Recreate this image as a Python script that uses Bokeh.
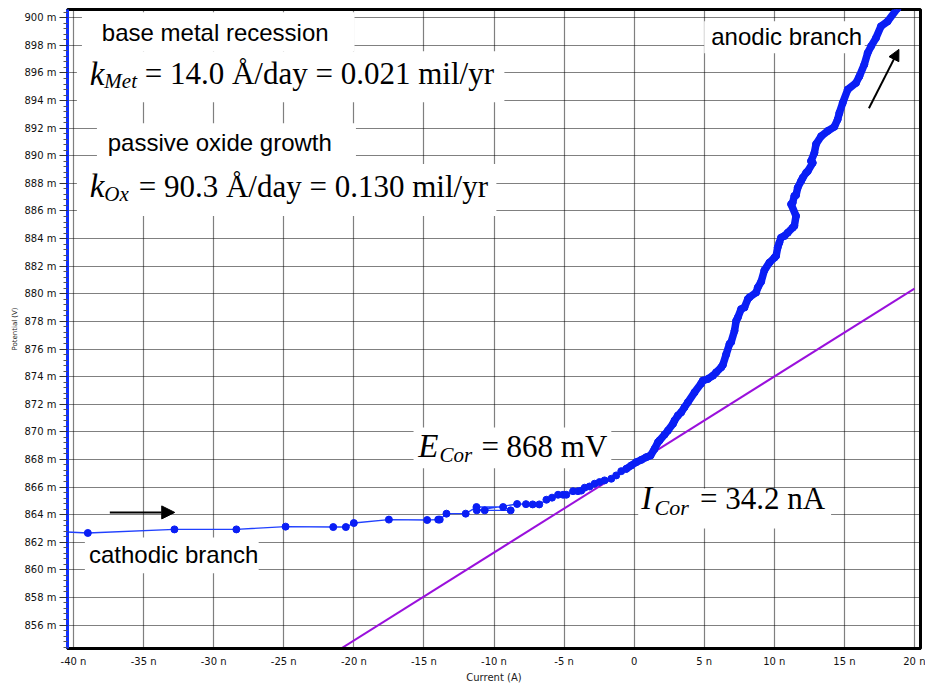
from bokeh.plotting import figure
from bokeh.models import (Range1d, FixedTicker, CustomJSTickFormatter, PrintfTickFormatter,
                          Label, BoxAnnotation, Arrow, NormalHead)
from bokeh.embed import file_html
from bokeh.resources import INLINE
import numpy as np

# ---------------- data ----------------
# x in nA, y in mV
cathodic_x = [-41.5, -38.98, -32.80, -28.38, -24.87, -21.47, -20.57, -20.00, -17.50, -14.77,
              -13.98, -13.87, -13.39, -12.02, -11.25, -9.35, -8.81, -10.66, -11.23, -8.35,
              -7.72, -7.24, -6.77, -6.26, -5.86, -5.43, -5.07, -4.84, -4.36, -4.01, -3.77,
              -3.53, -3.18, -2.82, -2.47, -2.11, -1.63, -1.28, -0.92]
cathodic_y = [862.80, 862.67, 862.93, 862.93, 863.13, 863.10, 863.10, 863.39, 863.64, 863.61,
              863.64, 863.64, 864.07, 864.07, 864.55, 864.55, 864.31, 864.31, 864.31, 864.77,
              864.76, 864.74, 864.74, 865.08, 865.23, 865.44, 865.44, 865.44, 865.70, 865.70, 865.74,
              865.95, 866.04, 866.24, 866.36, 866.48, 866.60, 866.84, 867.15]

anodic_x = [-0.56, -0.21, 0.15, 0.51, 0.86, 1.17, 1.45, 1.70, 1.81, 2.17, 2.41, 2.77, 2.88, 3.12,
            3.36, 3.59, 3.83, 4.31, 4.78, 4.90, 5.26, 5.62, 5.85, 6.21, 6.33, 6.56, 6.80, 6.92,
            7.16, 7.28, 7.40, 7.63, 7.87, 8.11, 8.23, 8.70, 8.82, 9.06, 9.29, 9.65, 10.01, 10.13,
            10.24, 10.36, 10.48, 10.72, 10.96, 11.31, 11.43, 11.55, 11.20, 11.31, 11.43, 11.55,
            11.67, 11.91, 12.03, 12.27, 12.39, 12.74, 12.62, 12.86, 12.98, 13.34, 13.81, 14.28,
            14.52, 14.64, 14.88, 15.24, 15.83, 16.07, 16.42, 16.66, 16.90, 17.25, 17.61, 18.09, 18.80]
anodic_y = [867.32, 867.56, 867.80, 867.97, 868.16, 868.29, 868.75, 869.25, 869.37, 869.80, 870.09,
            870.58, 870.82, 871.18, 871.42, 871.78, 872.14, 872.86, 873.50, 873.71, 873.83, 874.07,
            874.31, 874.67, 874.85, 875.60, 876.36, 876.50, 877.32, 878.05, 878.29, 878.89, 879.01,
            879.62, 879.75, 880.09, 880.45, 880.88, 881.70, 882.26, 882.62, 882.75, 883.35, 883.71,
            884.07, 884.19, 884.43, 884.79, 884.92, 885.64, 886.49, 886.60, 887.09, 887.15, 887.69,
            888.17, 888.41, 888.77, 888.89, 889.49, 889.62, 890.22, 890.85, 891.42, 891.80, 892.10,
            892.63, 893.10, 893.83, 894.80, 895.28, 895.76, 896.61, 897.45, 897.93, 898.53, 899.38,
            899.74, 900.70]

# Tafel fit line (end points)
tafel_x = [-21.0, 20.0]
tafel_y = [854.24, 880.38]

x_ticks = [-40, -35, -30, -25, -20, -15, -10, -5, 0, 5, 10, 15, 20]
y_ticks = [856, 858, 860, 862, 864, 866, 868, 870, 872, 874, 876, 878, 880, 882, 884, 886,
           888, 890, 892, 894, 896, 898, 900]

# ---------------- figure ----------------
p = figure(width=925, height=687, output_backend="svg", toolbar_location=None,
           x_range=Range1d(-40.43, 20.43), y_range=Range1d(854.3, 900.6),
           min_border_left=67, min_border_right=5, min_border_top=9, min_border_bottom=39,
           x_axis_label="Current (A)", y_axis_label="Potential (V)")
p.background_fill_color = "white"
p.border_fill_color = "white"
p.outline_line_color = "black"
p.outline_line_width = 3

minor_y = [float(v) for v in np.round(np.arange(854.4, 900.6, 0.4), 1) if abs(v / 2 - round(v / 2)) > 1e-6]
p.yaxis.ticker = FixedTicker(ticks=y_ticks, minor_ticks=minor_y)
p.xaxis.ticker = FixedTicker(ticks=x_ticks)
p.yaxis.formatter = PrintfTickFormatter(format="%d m")
p.xaxis.formatter = CustomJSTickFormatter(code="return tick == 0 ? '0' : tick + ' n';")

for ax in (p.xaxis[0], p.yaxis[0]):
    ax.major_label_text_font = "DejaVu Sans"
    ax.major_label_text_font_size = "10px"
    ax.major_label_text_color = "#111111"
    ax.axis_label_text_font = "DejaVu Sans"
    ax.axis_label_text_font_style = "normal"
    ax.axis_label_text_color = "#222222"

p.xaxis.axis_line_color = "black"
p.xaxis.axis_line_width = 3
p.xaxis.major_tick_out = 0
p.xaxis.major_tick_in = 0
p.xaxis.minor_tick_out = 0
p.xaxis.minor_tick_in = 0
p.xaxis.major_label_standoff = 7
p.xaxis.axis_label_standoff = 2
p.xaxis.axis_label_text_font_size = "10px"

p.yaxis.axis_line_color = "#1030ff"
p.yaxis.axis_line_width = 3
p.yaxis.major_tick_out = 8
p.yaxis.major_tick_in = 0
p.yaxis.minor_tick_out = 4
p.yaxis.minor_tick_in = 0
p.yaxis.major_tick_line_color = "#333333"
p.yaxis.minor_tick_line_color = "#555555"
p.yaxis.major_label_standoff = 3
p.yaxis.axis_label_standoff = 2
p.yaxis.axis_label_text_font_size = "7px"

for g in (p.xgrid[0], p.ygrid[0]):
    g.grid_line_color = "#000000"
    g.grid_line_dash = "1 1"
    g.grid_line_width = 1.2
    g.grid_line_alpha = 1.0

# ---------------- white label boxes ----------------
boxes = [
    (-39.4, -19.95, 900.40, 897.57),   # base metal recession
    (-39.76, -9.26, 897.57, 893.88),   # k_Met
    (-38.33, -19.85, 892.36, 889.40),  # passive oxide growth
    (-39.76, -9.83, 889.40, 885.64),   # k_Ox
    (5.0, 16.45, 899.74, 897.43),      # anodic branch
    (-15.74, -1.63, 870.32, 867.36),   # E_Cor
    (0.29, 14.05, 865.90, 863.00),     # I_Cor
    (-39.19, -26.79, 862.35, 859.75),  # cathodic branch
]
for l, r, t, b in boxes:
    p.add_layout(BoxAnnotation(left=l, right=r, top=t, bottom=b, fill_color="white",
                               fill_alpha=1.0, line_alpha=0.0, level="underlay"))

# ---------------- data renderers ----------------
p.line(tafel_x, tafel_y, line_color="#9a10dc", line_width=2)

all_x = cathodic_x + anodic_x
all_y = cathodic_y + anodic_y
p.line(all_x, all_y, line_color="#2040ff", line_width=1.4)
p.line(anodic_x, anodic_y, line_color="#0a1ef5", line_width=7.5, line_join="round", line_cap="round")
p.scatter(all_x, all_y, size=7, fill_color="#0a1ef5", line_color="#0a1ef5")

# ---------------- texts ----------------
SANS = "Liberation Sans"
SERIF = "Liberation Serif"

def lab(x, y, text, font, size, style="normal"):
    p.add_layout(Label(x=x, y=y, text=text, text_font=font, text_font_size=size,
                       text_font_style=style, text_color="black",
                       text_baseline="alphabetic", text_align="left"))

lab(-37.98, 898.90, "base metal recession", SANS, "24px")
lab(-38.84, 895.96, "k", SERIF, "33px", "italic")
lab(-37.80, 895.42, "Met", SERIF, "21px", "italic")
lab(-34.92, 895.96, "= 14.0 Å/day = 0.021 mil/yr", SERIF, "31px")

lab(-37.56, 890.98, "passive oxide growth", SANS, "24px")
lab(-38.84, 887.80, "k", SERIF, "33px", "italic")
lab(-37.80, 887.20, "Ox", SERIF, "21px", "italic")
lab(-35.35, 887.80, "= 90.3 Å/day = 0.130 mil/yr", SERIF, "31px")

lab(5.50, 898.67, "anodic branch", SANS, "24px")
lab(-38.90, 861.08, "cathodic branch", SANS, "24px")

lab(-15.41, 868.94, "E", SERIF, "33px", "italic")
lab(-13.89, 868.35, "Cor", SERIF, "21px", "italic")
lab(-10.90, 868.94, "= 868 mV", SERIF, "31px")

lab(0.51, 865.18, "I", SERIF, "33px", "italic")
lab(1.45, 864.52, "Cor", SERIF, "22px", "italic")
lab(4.70, 865.18, "= 34.2 nA", SERIF, "31px")

# ---------------- arrows ----------------
p.add_layout(Arrow(end=NormalHead(size=13, fill_color="black", line_color="black"),
                   x_start=-37.41, y_start=864.16, x_end=-32.78, y_end=864.16,
                   line_color="black", line_width=2))
p.add_layout(Arrow(end=NormalHead(size=11, fill_color="black", line_color="black"),
                   x_start=16.75, y_start=893.45, x_end=18.89, y_end=897.71,
                   line_color="black", line_width=2))

open("out.html", "w").write(file_html(p, INLINE))
